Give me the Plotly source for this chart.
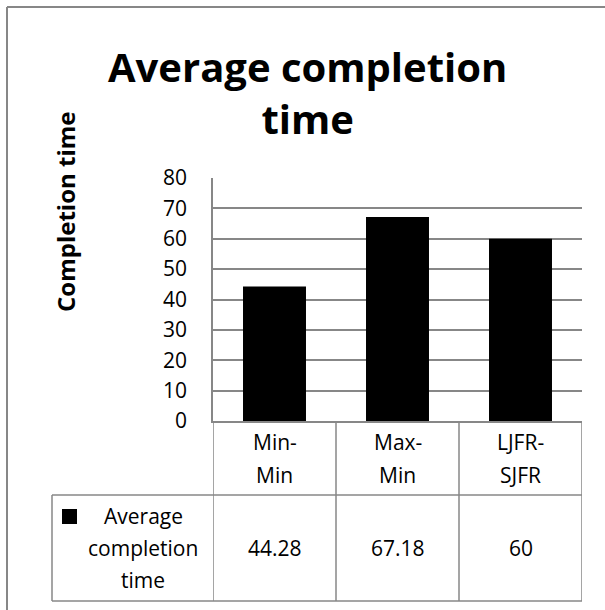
import plotly.graph_objects as go

# ---- data ----
categories = ["Min-Min", "Max-Min", "LJFR-SJFR"]
category_lines = [["Min-", "Min"], ["Max-", "Min"], ["LJFR-", "SJFR"]]
values = [44.28, 67.18, 60]
value_labels = ["44.28", "67.18", "60"]
series_name_lines = ["Average", "completion", "time"]
y_ticks = [0, 10, 20, 30, 40, 50, 60, 70, 80]
title_text = "Average completion<br>time"
y_title = "Completion time"

W, H = 605, 610
FONT = "Open Sans, Noto Sans, sans-serif"
GRID = "#878787"


def px(x):
    return x / W


def py(y):
    return 1 - y / H


x_pos = list(range(len(categories)))

fig = go.Figure()
fig.add_trace(go.Bar(
    x=x_pos, y=values, width=0.512,
    marker=dict(color="black", line=dict(width=0)),
    name="Average completion time", showlegend=False,
))

shapes = []
annotations = []

# outer chart border (left & top visible)
shapes.append(dict(type="line", xref="paper", yref="paper",
                   x0=px(7), x1=px(7), y0=py(7), y1=py(615),
                   line=dict(color="#878787", width=2)))
shapes.append(dict(type="line", xref="paper", yref="paper",
                   x0=px(7), x1=px(615), y0=py(7), y1=py(7),
                   line=dict(color="#878787", width=2)))

# data table grid
for b in [-0.5, 0.5, 1.5, 2.5]:
    shapes.append(dict(type="line", xref="x", yref="paper",
                       x0=b, x1=b, y0=py(421), y1=py(601),
                       line=dict(color=GRID, width=1.5)))
for yy in [495, 601]:
    shapes.append(dict(type="line", xref="paper", yref="paper",
                       x0=px(52), x1=px(582), y0=py(yy), y1=py(yy),
                       line=dict(color=GRID, width=1.5)))
shapes.append(dict(type="line", xref="paper", yref="paper",
                   x0=px(52), x1=px(52), y0=py(495), y1=py(601),
                   line=dict(color=GRID, width=1.5)))
# legend key
shapes.append(dict(type="rect", xref="paper", yref="paper",
                   x0=px(62), x1=px(77), y0=py(509), y1=py(524),
                   fillcolor="black", line=dict(width=0)))

# category header lines
for i, lines in enumerate(category_lines):
    for j, t in enumerate(lines):
        annotations.append(dict(x=i, xref="x", y=py(442 + 33 * j), yref="paper",
                                text=t, showarrow=False, xanchor="center",
                                yanchor="middle",
                                font=dict(family=FONT, size=21, color="black")))
# values row
for i, t in enumerate(value_labels):
    annotations.append(dict(x=i, xref="x", y=py(548), yref="paper",
                            text=t, showarrow=False, xanchor="center",
                            yanchor="middle",
                            font=dict(family=FONT, size=21, color="black")))
# series name
for j, t in enumerate(series_name_lines):
    annotations.append(dict(x=px(143), xref="paper", y=py(516 + 32 * j), yref="paper",
                            text=t, showarrow=False, xanchor="center",
                            yanchor="middle",
                            font=dict(family=FONT, size=21, color="black")))
# y axis title
annotations.append(dict(x=px(65), xref="paper", y=py(212), yref="paper",
                        text="<b>" + y_title + "</b>", showarrow=False,
                        textangle=-90, xanchor="center", yanchor="middle",
                        font=dict(family=FONT, size=24, color="black")))
# chart title
annotations.append(dict(x=px(307), xref="paper", y=py(92), yref="paper",
                        text="<b>" + title_text + "</b>", showarrow=False,
                        xanchor="center", yanchor="middle",
                        font=dict(family=FONT, size=40, color="black")))

fig.update_layout(
    width=W, height=H, autosize=False,
    margin=dict(l=0, r=0, t=0, b=0, pad=0, autoexpand=False),
    paper_bgcolor="white", plot_bgcolor="white",
    xaxis=dict(domain=[px(213), px(582)], range=[-0.5, 2.5], automargin=False,
               showticklabels=False, showgrid=False, zeroline=False,
               showline=True, linecolor=GRID, linewidth=1.5, ticks=""),
    yaxis=dict(domain=[py(421), py(178)], range=[0, 80], automargin=False,
               tickvals=y_ticks, ticks="", ticklabelstandoff=20,
               showgrid=True, gridcolor=GRID, gridwidth=1.5,
               zeroline=False, showline=True, linecolor=GRID, linewidth=1.5,
               tickfont=dict(family=FONT, size=21, color="black")),
    shapes=shapes, annotations=annotations,
    bargap=0.49,
)

fig.write_html("out.html",
               config={"displayModeBar": False},
               post_script="document.body.style.margin='0';document.body.style.overflow='hidden';")
